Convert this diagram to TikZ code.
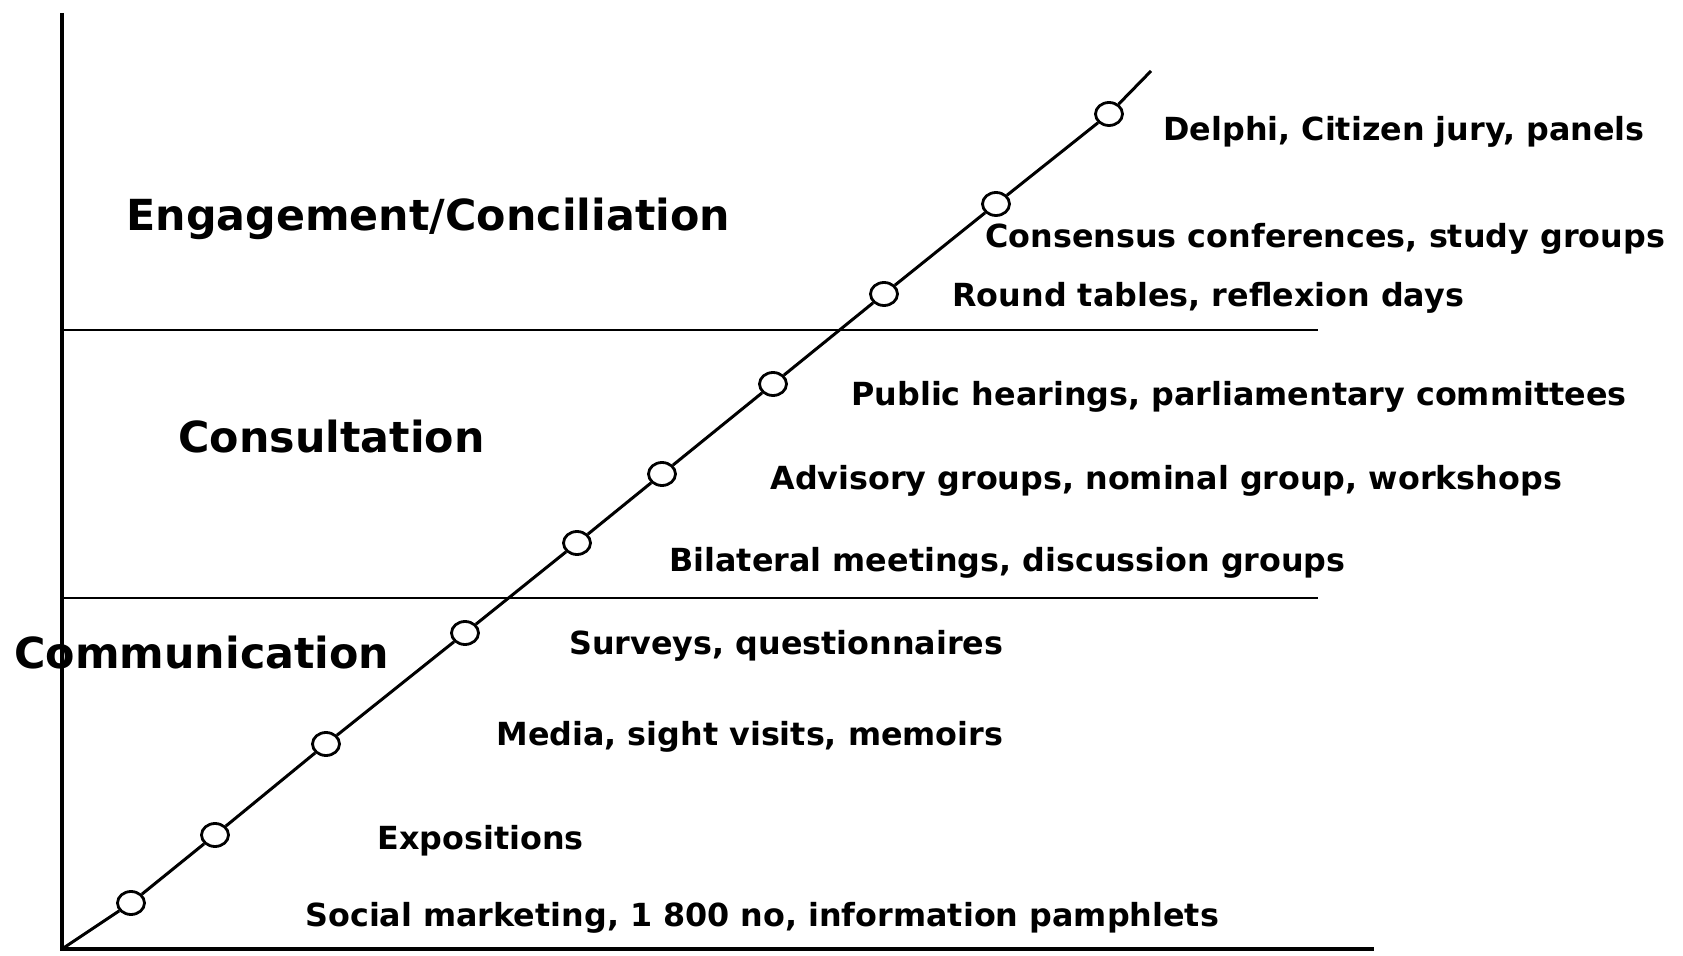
\documentclass[tikz,border=0pt]{standalone}
\usepackage{fontspec}
\setmainfont{DejaVu Sans}
\usetikzlibrary{positioning,shapes.geometric}
\tikzset{
  stop/.style={ellipse,draw,fill=white,line width=1.4pt,minimum width=13.5pt,minimum height=11.5pt,inner sep=0pt},
  tool/.style={anchor=west,inner sep=0pt,font=\fontsize{15.9}{19}\selectfont\bfseries},
  level/.style={anchor=west,inner sep=0pt,font=\fontsize{21.4}{25}\selectfont\bfseries},
  axis/.style={line width=1.8pt},
}

\begin{document}
\begin{tikzpicture}[x=0.5pt,y=-0.5pt]
\useasboundingbox (0,0) rectangle (1683,956);
% axes and level limits
\coordinate (top) at (62,13); \coordinate (o) at (62,949); \coordinate (end) at (1374,949);
\draw[axis] (top) -- (o) -- (end);
\coordinate (h1) at (62,330); \coordinate (h1m) at (925,330); \coordinate (h1e) at (1318,330);
\draw[line width=1.4pt] (h1) -- (h1m); \draw[line width=0.9pt] (h1m) -- (h1e);
\coordinate (h2) at (62,598); \coordinate (h2e) at (1318,598);
\draw[line width=1.4pt] (h2) -- (h2e);
% the ladder
\coordinate (tip) at (1151,71);
\node[stop] (s1) at (131,903) {}; \node[stop] (s2) at (215,835) {};
\node[stop] (s3) at (326,744) {}; \node[stop] (s4) at (465,633) {};
\node[stop] (s5) at (577,543) {}; \node[stop] (s6) at (662,474) {};
\node[stop] (s7) at (773,384) {}; \node[stop] (s8) at (884,294) {};
\node[stop] (s9) at (996,204) {}; \node[stop] (s10) at (1109,114) {};
\draw[line width=1.5pt] (o) -- (s1) -- (s2) -- (s3) -- (s4) -- (s5) -- (s6) -- (s7) -- (s8) -- (s9) -- (s10) -- (tip);
% levels
\node[level] (eng) at (126,219) {Engagement/Conciliation};
\node[level] (cons) at (178,437) {Consultation};
\node[level] (comm) at (14,653) {Communication};
% tools
\node[tool] (t10) at (1163,132) {Delphi, Citizen jury, panels};
\node[tool] (t9) at (985,239) {Consensus conferences, study groups};
\node[tool] (t8) at (952,298) {Round tables, reflexion days};
\node[tool] (t7) at (851,397) {Public hearings, parliamentary committees};
\node[tool] (t6) at (770,481) {Advisory groups, nominal group, workshops};
\node[tool] (t5) at (669,563) {Bilateral meetings, discussion groups};
\node[tool] (t4) at (569,646) {Surveys, questionnaires};
\node[tool] (t3) at (496,737) {Media, sight visits, memoirs};
\node[tool] (t2) at (377,841) {Expositions};
\node[tool] (t1) at (305,918) {Social marketing, 1 800 no, information pamphlets};
\end{tikzpicture}
\end{document}
